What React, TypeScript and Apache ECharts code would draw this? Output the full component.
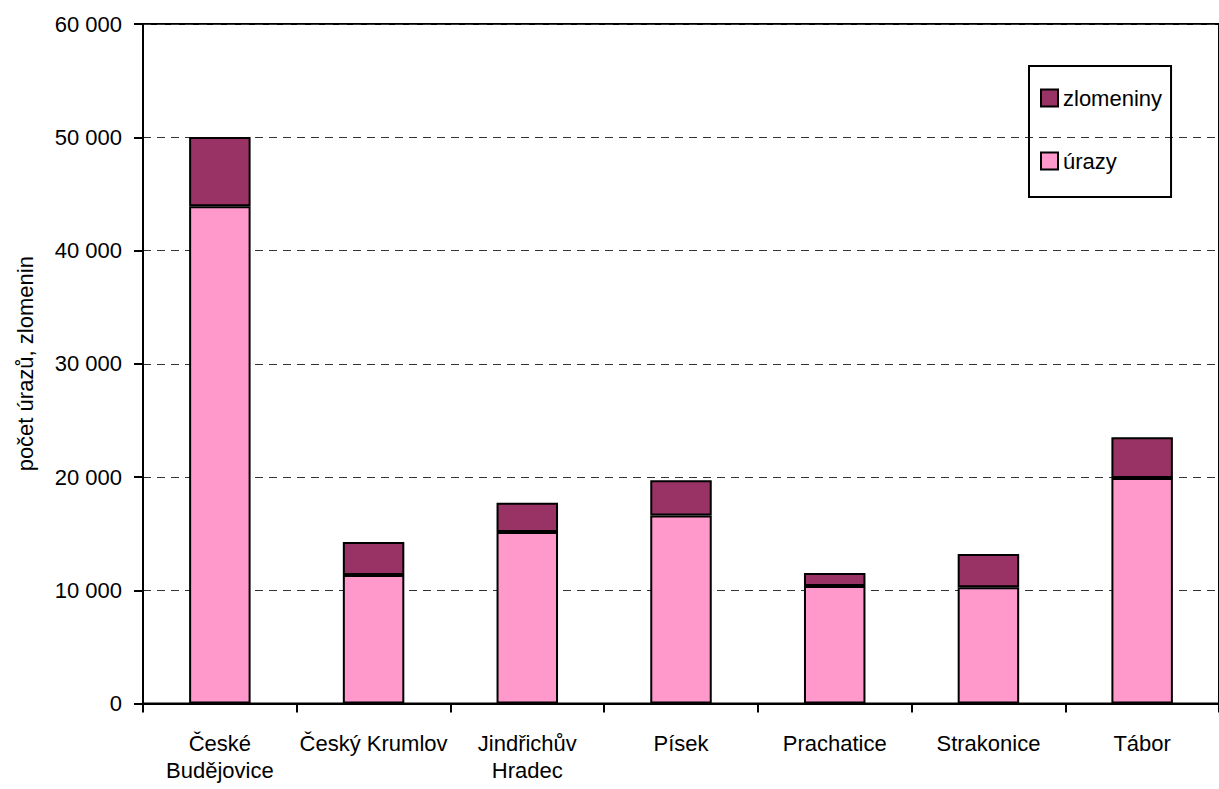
import React, { useEffect, useRef } from "react";
import * as echarts from "echarts";

const categories = ["České\nBudějovice", "Český Krumlov", "Jindřichův\nHradec", "Písek", "Prachatice", "Strakonice", "Tábor"];
const urazy = [43900, 11350, 15150, 16600, 10380, 10260, 19920];
const zlomeniny = [6120, 2910, 2580, 3110, 1140, 2940, 3590];
const yTicks = { min: 0, max: 60000, interval: 10000 };

const FONT = "'Liberation Sans', Arial, sans-serif";

export default function App() {
  const ref = useRef<HTMLDivElement>(null);
  useEffect(() => {
    if (!ref.current) return;
    const chart = echarts.init(ref.current, undefined, { renderer: "svg" });
    chart.setOption({
      animation: false,
      textStyle: { fontFamily: FONT },
      grid: {
        left: 143,
        top: 24,
        bottom: 85.5,
        right: -8,
        show: true,
        borderColor: "#000",
        borderWidth: 2,
        backgroundColor: "transparent",
      },
      legend: {
        data: ["zlomeniny", "úrazy"],
        orient: "vertical",
        left: 1029,
        top: 66,
        padding: [21, 9, 25, 11],
        borderColor: "#000",
        borderWidth: 2,
        itemWidth: 17,
        itemHeight: 17,
        itemGap: 41,
        icon: "rect",
        textStyle: { fontFamily: FONT, fontSize: 22, color: "#000", lineHeight: 22 },
      },
      xAxis: {
        type: "category",
        data: categories,
        axisLine: { lineStyle: { color: "#000", width: 2 } },
        axisTick: { show: true, length: 9, lineStyle: { color: "#000", width: 2 } },
        axisLabel: {
          interval: 0,
          margin: 26,
          fontSize: 22,
          lineHeight: 27,
          color: "#000",
          fontFamily: FONT,
        },
      },
      yAxis: {
        type: "value",
        min: yTicks.min,
        max: yTicks.max,
        interval: yTicks.interval,
        name: "počet úrazů, zlomenin",
        nameLocation: "middle",
        nameGap: 107,
        nameTextStyle: { fontSize: 22, color: "#000", fontFamily: FONT },
        axisLine: { show: true, lineStyle: { color: "#000", width: 2 } },
        axisTick: { show: true, length: 9, lineStyle: { color: "#000", width: 2 } },
        axisLabel: {
          margin: 21,
          fontSize: 22,
          color: "#000",
          fontFamily: FONT,
          formatter: (v: number) => String(v).replace(/\B(?=(\d{3})+(?!\d))/g, " "),
        },
        splitLine: { show: true, lineStyle: { color: "#333", width: 1, type: [8, 6] } },
      },
      series: [
        {
          name: "úrazy",
          type: "bar",
          stack: "total",
          data: urazy,
          barWidth: "40%",
          itemStyle: { color: "#FF99CC", borderColor: "#000", borderWidth: 2 },
        },
        {
          name: "zlomeniny",
          type: "bar",
          stack: "total",
          data: zlomeniny,
          barWidth: "40%",
          itemStyle: { color: "#993366", borderColor: "#000", borderWidth: 2 },
        },
      ],
    });
    return () => chart.dispose();
  }, []);
  return <div ref={ref} style={{ width: 1219, height: 789, position: "absolute", left: 0, top: 0 }} />;
}
